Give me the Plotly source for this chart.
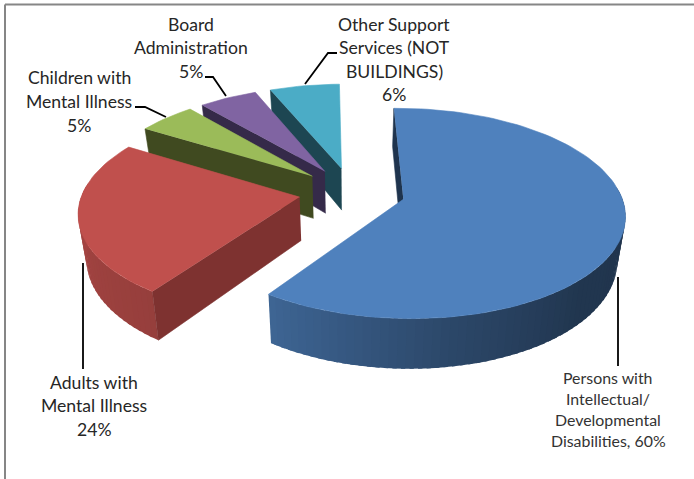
import numpy as np
import plotly.graph_objects as go

# Budget shares by service area, clockwise from the top of the pie
categories = ["Persons with Intellectual/Developmental Disabilities",
              "Adults with Mental Illness", "Children with Mental Illness",
              "Board Administration", "Other Support Services (NOT BUILDINGS)"]
shares = [60, 24, 5, 5, 6]
top_colors = ["#4F81BD", "#C0504D", "#9BBB59", "#8064A2", "#4BACC6"]
side_colors = ["#1F344E", "#7E3230", "#404A20", "#352A49", "#1D4652"]
label_lines = [["Persons with", "Intellectual/", "Developmental", "Disabilities, 60%"],
               ["Adults with", "Mental Illness", "24%"],
               ["Children with", "Mental Illness", "5%"],
               ["Board", "Administration", "5%"],
               ["Other Support", "Services (NOT", "BUILDINGS)", "6%"]]
label_centers = [(608, 377, 21.2), (94, 382, 23.5), (79, 77, 24), (191, 24, 23.5), (394, 24, 23.5)]
leader_x = [[618, 618], [83, 83], [166, 145, 135], [226, 213, 205], [305, 328, 337]]
leader_y = [[277, 366], [263, 369], [117, 107, 107], [96, 77, 77], [84, 53, 53]]

# Projection of the tilted disc onto the page
CX, CY = 352, 192
RX, RY = 217, 101.3
PERSPECTIVE = 0.133
EXPLODE = 0.245
DEPTH = 43
BASE_SHRINK = 0.97  # the underside sits further from the viewer
START_ANGLE = -1


def project(u, v, drop=0.0):
    scale = 1 / (1 - PERSPECTIVE * v)
    shrink = BASE_SHRINK if drop else 1.0
    return CX + RX * u * scale * shrink, CY + (RY * v + drop) * scale


def disc_point(theta_deg, radius, off_u, off_v):
    t = np.radians(theta_deg)
    return radius * np.sin(t) + off_u, -radius * np.cos(t) + off_v


def shade_factor(theta):
    return np.interp(theta, [80, 135, 170, 214, 280], [0.40, 0.42, 0.55, 0.78, 0.88])


def rgb_scaled(hex_color, factor):
    r, g, b = (int(hex_color[i:i + 2], 16) for i in (1, 3, 5))
    return f"rgb({r * factor:.0f},{g * factor:.0f},{b * factor:.0f})"


def polygon(fig, xs, ys, color, edge=0.6):
    fig.add_trace(go.Scatter(x=list(xs), y=list(ys), mode="lines", fill="toself",
                             fillcolor=color, line=dict(color=color, width=edge),
                             hoverinfo="skip", showlegend=False))


fig = go.Figure()

# Cumulative angles for each wedge
spans = [s / sum(shares) * 360 for s in shares]
starts = START_ANGLE + np.concatenate(([0], np.cumsum(spans)[:-1]))

# Paint from the back of the pie to the front
for idx in [4, 3, 2, 1, 0]:
    a0, a1 = starts[idx], starts[idx] + spans[idx]
    mid = np.radians((a0 + a1) / 2)
    off_u, off_v = EXPLODE * np.sin(mid), -EXPLODE * np.cos(mid)
    thetas = np.linspace(a0, a1, max(int(spans[idx] / 2), 8) + 1)

    # outer rim, split into overlapping bands so the shading runs smoothly across it
    for t0, t1 in zip(thetas[:-1], thetas[1:]):
        if -np.cos(np.radians((t0 + t1) / 2)) < -0.12:
            continue
        t_far = min(t1 + 1.0, a1)
        arc = np.linspace(t0, t_far, 5)
        au, av = disc_point(arc, 1, off_u, off_v)
        tx, ty = project(au, av)
        bx, by = project(au, av, DEPTH)
        polygon(fig, np.concatenate((tx, bx[::-1])), np.concatenate((ty, by[::-1])),
                rgb_scaled(top_colors[idx], float(shade_factor((t0 + t1) / 2))), edge=0)

    # cut face along the leading radius
    ue, ve = disc_point(a0, 1, off_u, off_v)
    p = [project(off_u, off_v), project(ue, ve), project(ue, ve, DEPTH), project(off_u, off_v, DEPTH)]
    polygon(fig, [q[0] for q in p], [q[1] for q in p], side_colors[idx])

    # top face
    us, vs = disc_point(thetas, 1, off_u, off_v)
    xs, ys = project(np.append(us, off_u), np.append(vs, off_v))
    polygon(fig, xs, ys, top_colors[idx])

# Leader lines
for lx, ly in zip(leader_x, leader_y):
    fig.add_trace(go.Scatter(x=lx, y=ly, mode="lines", line=dict(color="#000000", width=1.8),
                             hoverinfo="skip", showlegend=False))

# Data labels, one annotation per line to hold the tight line pitch
for i, lines in enumerate(label_lines):
    cx, cy, pitch = label_centers[i]
    size, color = (15.9, "#333333") if i == 0 else (17.6, "#262626")
    for n, line in enumerate(lines):
        fig.add_annotation(x=cx, y=cy + n * pitch, text=line, showarrow=False,
                           xanchor="center", yanchor="middle",
                           font=dict(family="Lato", size=size, color=color))

# Chart-area frame
FRAME = dict(type="line", line=dict(color="#868686", width=2))
fig.add_shape(x0=5, x1=694, y0=4.5, y1=4.5, **FRAME)
fig.add_shape(x0=5, x1=5, y0=4.5, y1=479, **FRAME)

fig.update_layout(width=694, height=479, margin=dict(l=0, r=0, t=0, b=0),
                  paper_bgcolor="white", plot_bgcolor="white", showlegend=False,
                  xaxis=dict(range=[0, 694], visible=False, fixedrange=True),
                  yaxis=dict(range=[479, 0], visible=False, fixedrange=True))
fig.write_html("out.html", config=dict(displayModeBar=False))
